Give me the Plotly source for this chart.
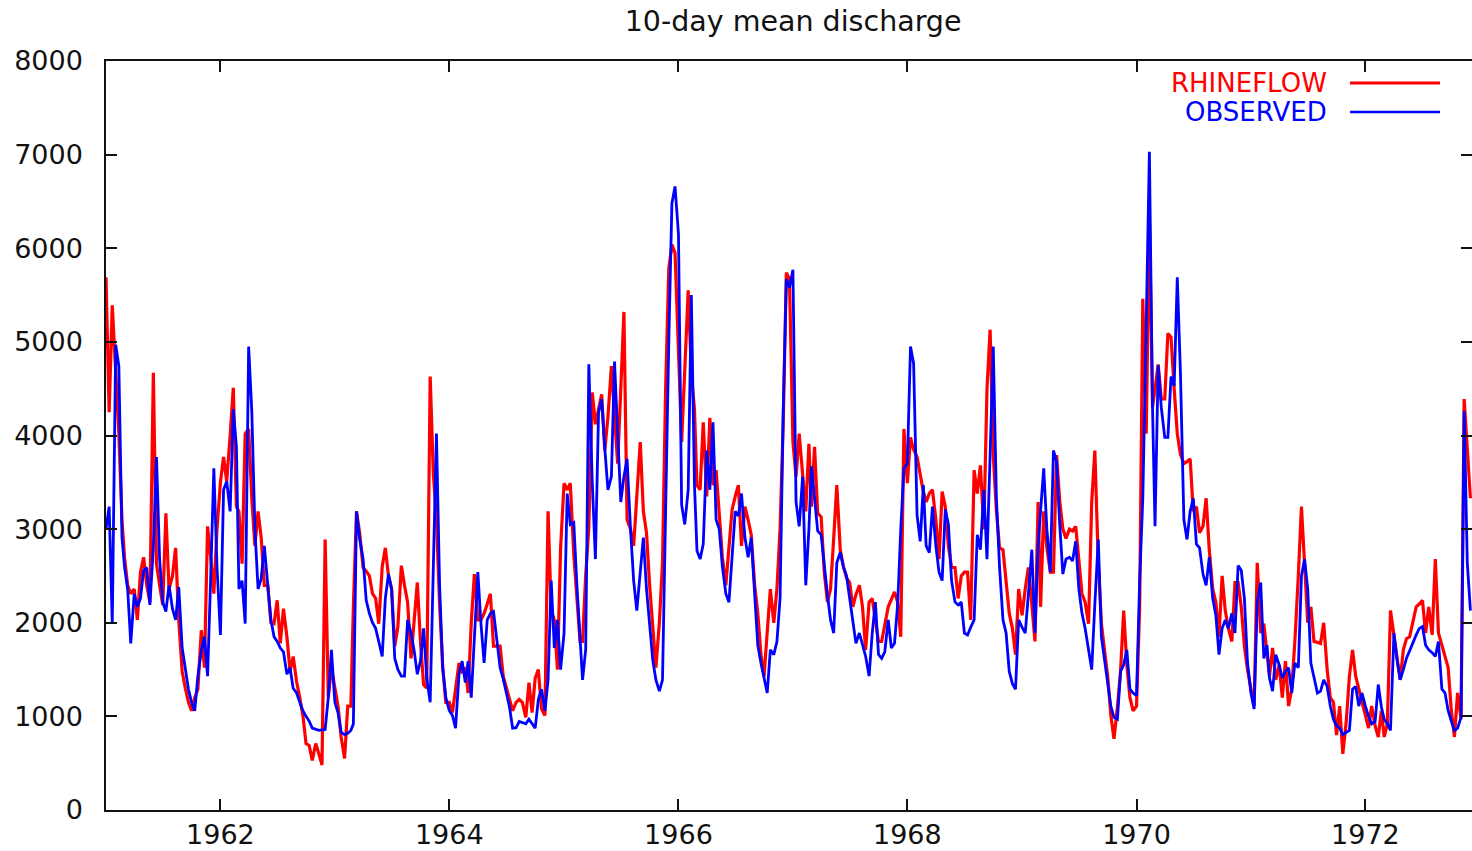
import plotly.graph_objects as go

# 10-day mean discharge (m3/s), one list per calendar year, 36 dekads per year
rhineflow_1961 = [5690, 4250, 5390, 4600, 4020, 3100, 2700, 2400, 2310, 2360, 2030, 2540, 2700, 2400, 2220, 4670, 2630, 2400,
                  2190, 3170, 2360, 2500, 2800, 2030, 1480, 1300, 1150, 1060, 1200, 1290, 1920, 1520, 3030, 2700, 2310, 3000]
rhineflow_1962 = [3500, 3770, 3510, 4000, 4510, 3240, 3190, 2630, 4020, 4070, 3330, 2820, 3190, 2910, 2400, 2400, 2000, 1990,
                  2240, 1780, 2150, 1850, 1480, 1640, 1370, 1200, 1010, 710, 690, 530, 710, 600, 480, 2890, 1200, 1520]
rhineflow_1963 = [1300, 1110, 780, 550, 1110, 1110, 2170, 3190, 2960, 2590, 2550, 2500, 2310, 2260, 1990, 2600, 2800, 2500,
                  2360, 1750, 1960, 2610, 2400, 2220, 1620, 2000, 2430, 1800, 1340, 1300, 4630, 3600, 3100, 2200, 1520, 1150]
rhineflow_1964 = [1150, 1040, 1300, 1570, 1480, 1520, 1250, 2000, 2520, 2030, 2030, 2100, 2200, 2310, 1750, 1750, 1750, 1430,
                  1300, 1180, 1060, 1150, 1180, 1150, 990, 1360, 1040, 1410, 1500, 1080, 1010, 3190, 2130, 2030, 1500, 2800]
rhineflow_1965 = [3490, 3420, 3490, 2730, 2200, 1800, 1800, 2500, 3020, 4460, 4120, 4300, 4440, 3840, 4200, 4740, 4200, 3700,
                  4500, 5320, 3100, 3000, 2820, 3400, 3930, 3190, 2960, 2400, 1990, 1520, 2000, 2640, 4500, 5780, 6040, 5950]
rhineflow_1966 = [4900, 3930, 4700, 5550, 4670, 4280, 3470, 3420, 4140, 3350, 4190, 3470, 3630, 3100, 2700, 2400, 2820, 3210,
                  3350, 3470, 2820, 3240, 3100, 2940, 2400, 2100, 1660, 1430, 1900, 2360, 2000, 2360, 3000, 4120, 5740, 5670]
rhineflow_1967 = [3930, 3560, 4020, 3600, 3190, 3910, 3240, 3880, 3170, 3130, 2540, 2220, 2360, 2900, 3470, 2780, 2600, 2480,
                  2430, 2170, 2300, 2400, 2170, 1710, 2220, 2260, 2000, 1800, 1800, 2000, 2170, 2250, 2330, 2220, 1850, 4070]
rhineflow_1968 = [3490, 3980, 3850, 3770, 3560, 3400, 3290, 3380, 3420, 3100, 2680, 3400, 3240, 2820, 2590, 2590, 2260, 2500,
                  2540, 2540, 2030, 3630, 3380, 3680, 3000, 4500, 5130, 3790, 3200, 2800, 2780, 2400, 2100, 1940, 1660, 2360]
rhineflow_1969 = [2080, 2360, 2590, 2200, 1800, 3290, 2170, 3190, 2800, 2540, 2540, 3790, 3300, 3000, 2900, 3000, 2980, 3030,
                  2700, 2310, 2220, 1990, 3290, 3840, 2640, 1990, 1700, 1430, 1010, 760, 1100, 1480, 2130, 1550, 1200, 1060]
rhineflow_1970 = [1110, 2170, 5460, 4020, 6340, 4300, 4500, 4760, 4390, 4390, 5090, 5050, 4500, 4020, 3800, 3700, 3720, 3750,
                  3190, 3240, 2960, 3030, 3330, 2780, 2360, 2220, 1850, 2500, 2130, 1940, 1800, 2430, 2430, 2170, 1750, 1500]
rhineflow_1971 = [1290, 1110, 2640, 1890, 1990, 1700, 1430, 1730, 1390, 1550, 1200, 1590, 1110, 1290, 1800, 2500, 3240, 2630,
                  2000, 2170, 1800, 1790, 1780, 2000, 1500, 1200, 1150, 800, 1110, 600, 950, 1430, 1710, 1430, 1290, 1150]
rhineflow_1972 = [1010, 875, 1110, 900, 780, 1060, 780, 920, 2130, 1850, 1600, 1390, 1710, 1830, 1850, 2000, 2170, 2200,
                  2240, 1890, 2170, 1870, 2680, 1890, 1750, 1640, 1520, 1060, 780, 1250, 970, 4390, 3800, 3330]

observed_1961 = [3000, 3240, 1990, 4970, 4740, 2910, 2600, 2360, 1780, 2310, 2170, 2260, 2560, 2590, 2190, 2800, 3770, 2680,
                 2220, 2120, 2400, 2150, 2030, 2380, 1730, 1500, 1290, 1150, 1060, 1430, 1700, 1850, 1430, 2500, 3650, 2600]
observed_1962 = [1870, 3420, 3510, 3190, 4280, 3880, 2360, 2450, 1990, 4950, 4260, 3000, 2360, 2470, 2820, 2400, 2030, 1850,
                 1800, 1730, 1690, 1450, 1520, 1300, 1250, 1150, 1060, 1000, 950, 875, 860, 850, 855, 860, 1200, 1710]
observed_1963 = [1150, 1040, 830, 805, 820, 850, 920, 3190, 2900, 2680, 2240, 2100, 2000, 1940, 1800, 1640, 2260, 2520,
                 2360, 1620, 1500, 1430, 1430, 2030, 1890, 1700, 1450, 1590, 1940, 1410, 1150, 2500, 4020, 2400, 1520, 1200]
observed_1964 = [1060, 1010, 875, 1450, 1590, 1360, 1590, 1200, 1900, 2540, 1990, 1570, 2030, 2100, 2120, 1800, 1520, 1400,
                 1250, 1100, 875, 880, 945, 930, 920, 970, 920, 875, 1180, 1290, 1060, 1390, 2450, 1730, 2030, 1500]
observed_1965 = [1890, 3380, 3050, 3070, 2400, 1800, 1390, 1710, 4760, 3500, 2680, 4240, 4390, 3860, 3420, 3560, 4790, 4020,
                 3290, 3560, 3750, 3000, 2450, 2130, 2500, 2910, 2360, 2000, 1600, 1390, 1270, 1390, 3380, 5000, 6480, 6660]
observed_1966 = [6150, 3260, 3050, 3420, 5500, 3470, 2770, 2680, 2840, 3840, 3420, 4140, 3100, 3000, 2600, 2310, 2220, 2700,
                 3190, 3140, 3380, 2910, 2700, 2910, 2310, 1760, 1570, 1400, 1250, 1710, 1660, 1800, 2260, 4260, 5670, 5580]
observed_1967 = [5770, 3290, 3030, 3560, 2400, 3000, 3670, 3330, 2980, 2940, 2600, 2300, 2030, 1890, 2640, 2750, 2600, 2500,
                 2260, 2000, 1780, 1890, 1750, 1640, 1430, 1890, 2220, 1660, 1620, 1690, 2030, 1730, 1780, 2190, 3000, 3650]
observed_1968 = [3700, 4950, 4770, 3150, 2870, 3470, 2820, 2750, 3240, 2820, 2540, 2450, 3210, 3050, 2450, 2220, 2190, 2220,
                 1890, 1870, 1950, 2030, 2940, 2780, 3420, 2680, 3800, 4950, 3330, 2600, 2030, 1890, 1480, 1350, 1290, 2030]
observed_1969 = [1950, 1890, 2300, 2780, 1890, 2820, 3200, 3650, 3000, 2540, 3840, 3720, 3050, 2520, 2680, 2700, 2660, 2870,
                 2360, 2100, 1940, 1700, 1500, 2200, 2890, 1850, 1600, 1390, 1110, 990, 970, 1480, 1550, 1710, 1290, 1250]
observed_1970 = [1220, 2450, 3330, 5200, 7030, 4300, 3030, 4750, 4300, 3980, 3980, 4630, 4530, 5690, 4670, 3100, 2890, 3190,
                 3330, 2840, 2800, 2520, 2400, 2700, 2260, 2080, 1660, 1940, 2030, 1940, 2100, 1890, 2610, 2560, 2260, 1570]
observed_1971 = [1250, 1080, 2220, 2430, 1620, 1760, 1410, 1270, 1660, 1550, 1410, 1480, 1520, 1250, 1570, 1520, 2500, 2680,
                 2360, 1570, 1430, 1250, 1270, 1390, 1320, 1110, 970, 900, 875, 805, 830, 850, 1290, 1320, 1110, 1250]
observed_1972 = [1110, 1000, 920, 945, 1340, 1100, 970, 920, 850, 1890, 1600, 1390, 1500, 1620, 1700, 1800, 1870, 1940,
                 1960, 1760, 1710, 1680, 1640, 1800, 1290, 1250, 1060, 950, 850, 875, 990, 4260, 2640, 2130]

years = list(range(1961, 1973))
rhineflow_by_year = [rhineflow_1961, rhineflow_1962, rhineflow_1963, rhineflow_1964, rhineflow_1965, rhineflow_1966,
                     rhineflow_1967, rhineflow_1968, rhineflow_1969, rhineflow_1970, rhineflow_1971, rhineflow_1972]
observed_by_year = [observed_1961, observed_1962, observed_1963, observed_1964, observed_1965, observed_1966,
                    observed_1967, observed_1968, observed_1969, observed_1970, observed_1971, observed_1972]

x_tick_years = [1962, 1964, 1966, 1968, 1970, 1972]
y_ticks = [0, 1000, 2000, 3000, 4000, 5000, 6000, 7000, 8000]
series_names = ["RHINEFLOW", "OBSERVED"]
series_colors = ["#ff0000", "#0000ff"]


def dekad_dates(year, n):
    """Start dates of the 10-day periods (1st, 11th, 21st of each month)."""
    dates = [f"{year}-{m:02d}-{d:02d}" for m in range(1, 13) for d in (1, 11, 21)]
    return dates[:n]


def flatten(series_by_year):
    dates, values = [], []
    for year, vals in zip(years, series_by_year):
        dates += dekad_dates(year, len(vals))
        values += vals
    return dates, values


rf_x, rf_y = flatten(rhineflow_by_year)
ob_x, ob_y = flatten(observed_by_year)

FONT = "DejaVu Sans"
AXIS_COLOR = "#111111"
TEXT_COLOR = "#111111"

fig = go.Figure()
fig.add_trace(go.Scatter(x=rf_x, y=rf_y, mode="lines", name=series_names[0],
                         line=dict(color=series_colors[0], width=3.2), showlegend=False))
# observed series on an overlaid axis so it is drawn above the model line
fig.add_trace(go.Scatter(x=ob_x, y=ob_y, mode="lines", name=series_names[1], yaxis="y2",
                         line=dict(color=series_colors[1], width=2.8), showlegend=False))

fig.update_layout(
    width=1472, height=851,
    margin=dict(l=106, r=0, t=61, b=41, pad=0, autoexpand=False),
    paper_bgcolor="white", plot_bgcolor="white",
    font=dict(family=FONT, color=TEXT_COLOR, size=27),
    title=dict(text="10-day mean discharge", x=0.503, xref="paper", xanchor="center",
               y=1 - 21 / 851, yref="container", yanchor="middle", automargin=False,
               font=dict(family=FONT, size=28.5, color=TEXT_COLOR)),
    xaxis=dict(
        type="date", range=["1961-01-01", "1972-12-06"], automargin=False,
        tickvals=[f"{y}-01-01" for y in x_tick_years], ticktext=[str(y) for y in x_tick_years],
        ticks="inside", ticklen=11, tickwidth=1.5, tickcolor=AXIS_COLOR,
        showline=True, linecolor=AXIS_COLOR, linewidth=1.5, mirror="ticks",
        showgrid=False, zeroline=False, ticklabelstandoff=0,
        tickfont=dict(family=FONT, size=27, color=TEXT_COLOR),
    ),
    yaxis=dict(
        range=[0, 8000], tickvals=y_ticks, ticktext=[str(v) for v in y_ticks], automargin=False,
        ticks="inside", ticklen=11, tickwidth=1.5, tickcolor=AXIS_COLOR,
        showline=True, linecolor=AXIS_COLOR, linewidth=1.5, mirror=False,
        showgrid=False, zeroline=False, ticklabelstandoff=16,
        tickfont=dict(family=FONT, size=27, color=TEXT_COLOR),
    ),
    yaxis2=dict(
        range=[0, 8000], overlaying="y", side="right", tickvals=y_ticks, automargin=False,
        showticklabels=False, ticks="inside", ticklen=11, tickwidth=1.5, tickcolor=AXIS_COLOR,
        showline=False, showgrid=False, zeroline=False,
    ),
)

# gnuplot-style key: label on the left, line sample on the right
key_rows = [0.9706, 0.9319]
for name, color, yk in zip(series_names, series_colors, key_rows):
    fig.add_annotation(text=name, xref="paper", yref="paper", x=0.8946, y=yk,
                       xanchor="right", yanchor="middle", showarrow=False, borderpad=0,
                       font=dict(family=FONT, size=26, color=color))
    fig.add_shape(type="line", xref="paper", yref="paper", x0=0.9107, x1=0.9766, y0=yk, y1=yk,
                  line=dict(color=color, width=3 if color == "#ff0000" else 2.4))

fig.write_html("out.html")
